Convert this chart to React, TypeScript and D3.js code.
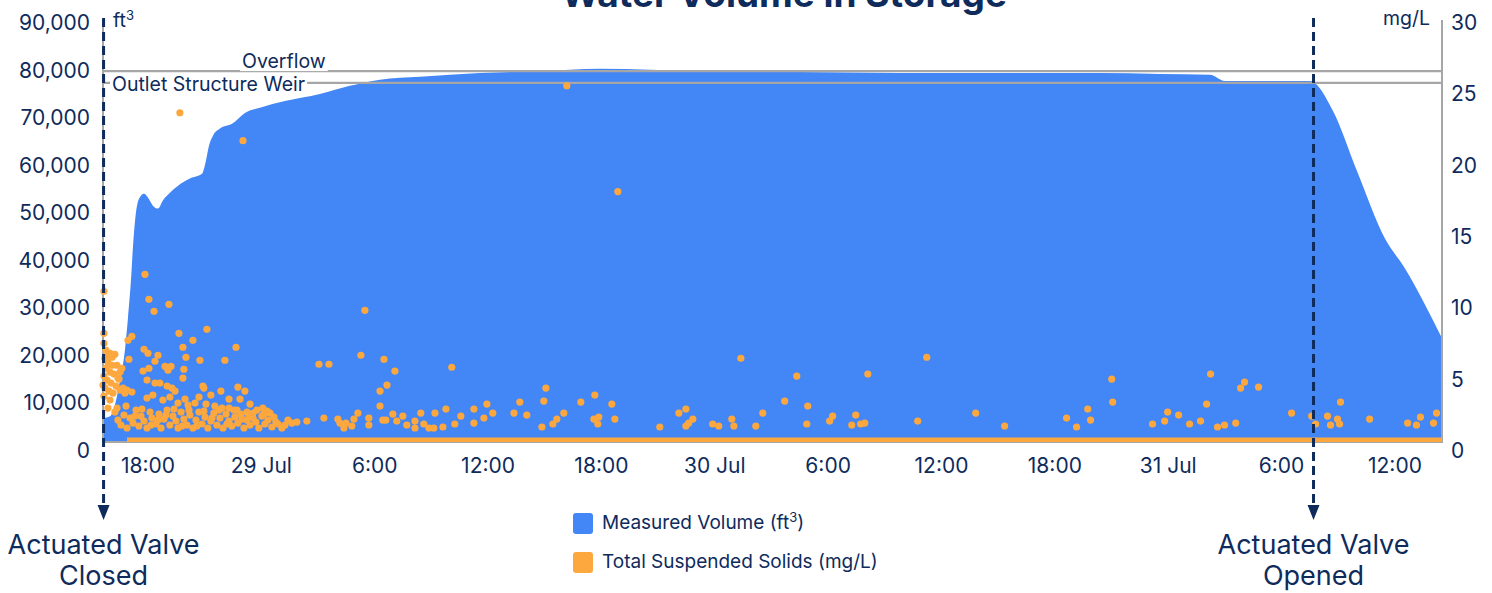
import { useEffect, useRef } from 'react'
import * as d3 from 'd3'

const WIDTH = 1492
const HEIGHT = 593

// all times are hours counted from 28 Jul 00:00
const volumeHours = [
  15.62, 15.99, 16.25, 16.52, 16.78, 16.94, 17.1, 17.21, 17.42, 17.63, 17.79, 18.0, 18.26, 18.53,
  18.79, 19.16, 19.59, 20.22, 20.86, 21.07, 21.23, 21.44, 21.81, 22.45, 23.13, 23.93, 25.25, 27.1,
  28.69, 30.28, 32.4, 35.57, 38.75, 41.92, 47.22, 52.51, 57.8, 63.09, 68.39, 71.56, 74.21, 75.0,
  79.5, 80.72, 81.99, 83.47, 84.53, 86.49,
]
const volumeValues = [
  5000, 5400, 7800, 13000, 19300, 26000, 34000, 41300, 49700, 51800, 52200, 51400, 49700, 49100,
  50800, 52400, 53900, 55400, 56400, 59200, 62300, 64400, 65900, 66900, 69200, 70300, 71700, 73200,
  74900, 76200, 76800, 77600, 78000, 78500, 78000, 77800, 77600, 77600, 77600, 77400, 77200, 75900,
  75900, 69600, 57000, 42800, 36500, 21800,
]

// [hour, mg/L]
const tssReadings: [number, number][] = [
  [15.67, 10.56], [17.84, 11.75], [19.69, 23.08], [23.03, 21.12], [40.17, 24.97], [42.87, 17.55],
  [29.48, 9.23], [18.05, 10.0], [19.11, 9.65], [18.32, 9.16], [15.67, 7.62], [19.64, 7.62],
  [21.12, 7.9], [17.15, 7.41], [16.94, 7.13], [20.38, 7.13], [22.66, 6.64], [17.79, 6.5],
  [19.85, 6.64], [18.0, 6.22], [15.99, 6.22], [16.25, 6.15], [18.53, 6.08], [20.01, 5.94],
  [20.75, 5.73], [22.07, 5.73], [16.99, 5.8], [18.37, 5.66], [18.9, 5.31], [19.22, 5.31],
  [19.06, 5.03], [19.9, 5.1], [17.74, 4.97], [18.05, 5.17], [19.85, 4.48], [17.95, 4.34],
  [16.47, 4.41],
  [15.72, 5.87], [15.88, 5.59], [16.1, 5.38], [15.78, 5.17], [15.99, 4.9], [16.2, 4.76],
  [15.67, 4.62], [15.83, 4.34], [16.04, 4.13], [16.31, 3.92], [15.72, 3.78], [15.94, 3.57],
  [16.15, 3.43], [15.67, 3.22], [16.41, 4.48], [16.52, 4.9], [16.36, 5.38], [16.62, 5.17],
  [15.88, 6.08], [15.62, 3.99], [15.99, 2.94], [15.88, 2.38], [15.67, 6.92], [15.78, 6.43],
  [16.1, 5.94],
  [18.37, 4.13], [18.63, 4.13], [19.01, 3.92], [19.27, 3.78], [19.43, 3.57], [20.91, 3.92],
  [20.96, 3.78], [21.86, 3.57], [22.76, 3.85], [23.13, 3.57], [20.7, 3.15], [21.33, 3.29],
  [22.29, 3.01], [22.87, 3.01], [23.4, 2.66], [16.52, 3.64], [16.68, 3.78], [16.89, 3.64],
  [17.15, 3.5], [16.78, 3.43], [17.95, 3.08], [18.26, 3.29], [18.79, 2.94], [19.16, 3.15],
  [19.59, 2.73], [19.96, 3.01], [20.12, 2.59], [20.49, 2.73], [21.07, 2.66], [21.54, 2.52],
  [21.92, 2.38], [22.29, 2.38], [22.71, 2.24], [23.24, 2.1], [23.56, 2.03], [24.08, 2.38],
  [24.3, 2.17], [24.46, 2.03], [24.67, 1.75], [24.77, 1.4], [25.25, 1.19], [25.62, 1.33],
  [25.88, 1.4],
  [16.25, 2.1], [16.41, 1.54], [16.57, 1.19], [16.73, 1.89], [16.89, 0.98], [17.05, 1.68],
  [17.21, 1.33], [17.37, 2.24], [17.52, 1.12], [17.63, 1.82], [17.79, 1.47], [17.95, 0.98],
  [18.11, 2.1], [18.21, 1.68], [18.42, 1.26], [18.58, 1.96], [18.69, 0.98], [18.85, 1.61],
  [19.01, 2.24], [19.16, 1.19], [19.32, 1.82], [19.48, 1.47], [19.59, 0.98], [19.75, 2.1],
  [19.9, 1.61], [20.06, 1.19], [20.22, 1.89], [20.38, 0.98], [20.54, 1.54], [20.7, 2.1],
  [20.86, 1.26], [21.02, 1.75], [21.17, 0.98], [21.33, 1.47], [21.49, 2.03], [21.65, 1.19],
  [21.81, 1.68], [21.97, 0.98], [22.13, 1.96], [22.29, 1.47], [22.44, 1.12], [22.6, 1.75],
  [22.76, 1.33], [22.92, 1.96], [23.08, 0.98], [23.24, 1.54], [23.4, 1.19], [23.56, 1.68],
  [23.71, 1.4], [23.87, 0.98], [24.03, 1.82], [24.19, 1.26], [24.35, 1.54], [24.56, 1.05],
  [24.88, 1.26], [25.09, 0.98], [25.41, 1.54], [16.36, 2.38], [16.84, 2.52], [17.31, 1.82],
  [17.68, 2.31], [18.16, 1.19], [18.53, 1.54], [18.95, 1.89], [19.38, 2.31], [19.8, 1.12],
  [20.17, 2.24], [20.59, 1.12], [20.96, 2.17], [21.39, 1.68], [21.76, 2.24], [22.18, 1.26],
  [22.55, 2.24], [22.97, 1.61], [23.34, 1.89], [23.77, 2.24], [24.14, 1.96],
  [26.41, 1.47], [27.31, 1.68], [28.05, 1.61], [28.16, 1.33], [28.48, 1.33], [28.37, 0.98],
  [28.79, 1.12], [28.9, 1.61], [29.11, 2.03], [29.69, 1.68], [29.69, 1.19], [30.28, 2.52],
  [30.28, 3.57], [30.65, 3.99], [31.07, 4.97], [30.49, 5.8], [29.27, 6.08], [27.05, 5.45],
  [27.58, 5.45], [30.43, 1.54], [30.59, 1.54], [30.96, 1.96], [31.17, 1.47], [31.49, 1.82],
  [31.7, 1.19], [32.13, 1.47], [32.13, 0.98], [32.44, 2.03], [32.6, 1.26], [32.87, 0.98],
  [33.13, 0.98], [33.19, 2.03], [33.61, 1.05], [33.77, 2.31], [34.08, 5.24], [34.24, 1.26],
  [34.56, 1.82], [35.25, 2.31], [35.25, 1.33], [35.78, 1.68], [35.94, 2.66], [36.25, 2.03],
  [37.37, 2.03], [37.68, 2.8], [38.05, 1.89], [38.95, 2.87], [39.06, 3.78], [38.85, 1.05],
  [39.43, 1.26], [39.64, 1.61], [40.01, 2.03], [40.91, 2.8], [41.65, 3.29], [41.6, 1.61],
  [41.86, 1.75], [41.81, 1.26], [42.55, 2.66], [42.71, 1.61], [45.09, 1.05], [46.1, 2.03],
  [46.47, 2.31], [46.47, 1.12], [46.62, 1.33], [46.84, 1.61], [47.89, 1.26], [48.21, 1.12],
  [48.9, 1.61], [49.01, 1.12], [49.38, 5.87], [50.17, 1.12], [50.54, 2.03], [51.7, 2.87],
  [52.34, 4.62], [52.92, 2.52], [52.87, 1.26], [54.08, 1.47], [54.24, 1.82], [55.25, 1.19],
  [55.46, 1.89], [55.72, 1.26], [55.94, 1.33], [56.1, 4.76], [58.74, 1.47], [59.22, 5.94],
  [61.81, 2.03], [63.34, 1.12], [66.62, 1.68], [67.15, 1.05], [67.74, 2.31], [67.89, 1.54],
  [69.01, 4.41], [69.06, 2.8], [71.17, 1.26], [71.81, 1.47], [71.97, 2.1], [72.55, 1.89],
  [73.13, 1.26], [73.71, 1.47], [74.03, 2.66], [74.24, 4.76], [74.61, 1.05], [74.98, 1.19],
  [75.57, 1.33], [75.83, 3.78], [76.04, 4.2], [76.78, 3.85], [78.53, 2.03], [79.59, 1.82],
  [79.8, 1.26], [80.43, 1.82], [80.59, 1.19], [80.96, 1.61], [81.07, 1.26], [81.12, 2.8],
  [82.66, 1.61], [84.67, 1.33], [85.14, 1.19], [85.35, 1.75], [86.04, 1.33], [86.2, 2.03],
]
// run of zero readings along the bottom
const tssZeroSpan = [16.89, 86.49]

const timeDomain = [15.62, 86.49]
const volumeTicks = [0, 10000, 20000, 30000, 40000, 50000, 60000, 70000, 80000, 90000]
const tssTicks = [0, 5, 10, 15, 20, 25, 30]
const plotLines = [
  { label: 'Overflow', value: 78000 },
  { label: 'Outlet Structure Weir', value: 75500 },
]
const valveEvents = [
  { hour: 15.65, lines: ['Actuated Valve', 'Closed'] },
  { hour: 79.69, lines: ['Actuated Valve', 'Opened'] },
]

const NAVY = '#0e2b5c'
const BLUE = '#4386f5'
const ORANGE = '#fda83f'
const GREY = '#a6a6a6'
const FONT = "Inter, 'Noto Sans', sans-serif"

export default function App() {
  const svgRef = useRef<SVGSVGElement>(null)

  useEffect(() => {
    if (!svgRef.current) return
    const svg = d3.select(svgRef.current)
    svg.selectAll('*').remove()

    const x0 = 103
    const x1 = 1442
    const yTop = 14
    const yBottom = 442
    const base = new Date(2023, 6, 28).getTime()
    const toDate = (h: number) => new Date(base + h * 3600e3)

    const x = d3.scaleTime().domain(timeDomain.map(toDate)).range([x0, x1])
    const yVol = d3.scaleLinear().domain([0, 90000]).range([yBottom, yTop])
    const yTss = d3.scaleLinear().domain([0, 30]).range([yBottom, yTop])

    svg.append('defs').append('clipPath').attr('id', 'plot-clip')
      .append('rect')
      .attr('x', x0).attr('y', yTop)
      .attr('width', x1 - x0).attr('height', yBottom - yTop)

    const g = svg.append('g').style('font-family', FONT)

    // title, pushed up so only its lower part shows (as in the source)
    g.append('text')
      .attr('x', 784).attr('y', 7)
      .attr('text-anchor', 'middle')
      .attr('font-size', 37).attr('font-weight', 700)
      .attr('fill', NAVY)
      .text('Water Volume in Storage')

    // volume area
    const area = d3.area<number>()
      .x((_, i) => x(toDate(volumeHours[i])))
      .y0(yBottom)
      .y1((d) => yVol(d))
      .curve(d3.curveMonotoneX)
    g.append('path')
      .attr('clip-path', 'url(#plot-clip)')
      .attr('d', area(volumeValues) ?? '')
      .attr('fill', BLUE)

    // plot lines with labels
    const labelOffsets = [139, 9]
    plotLines.forEach((pl, i) => {
      const y = yVol(pl.value)
      g.append('line')
        .attr('x1', x0).attr('x2', x1)
        .attr('y1', y).attr('y2', y)
        .attr('stroke', GREY).attr('stroke-width', 2.2)
      const bg = g.append('rect').attr('fill', '#fff')
      const t = g.append('text')
        .attr('x', x0 + labelOffsets[i])
        .attr('y', i === 0 ? y - 3 : y + 8)
        .attr('font-size', 19.5)
        .attr('fill', NAVY)
        .text(pl.label)
      const bb = (t.node() as SVGTextElement).getBBox()
      bg.attr('x', bb.x - 2).attr('y', bb.y + 2)
        .attr('width', bb.width + 4).attr('height', bb.height - 4)
    })

    // axis lines
    g.append('line').attr('x1', x0).attr('x2', x0).attr('y1', 20).attr('y2', yBottom + 1)
      .attr('stroke', GREY).attr('stroke-width', 2)
    g.append('line').attr('x1', x1).attr('x2', x1).attr('y1', 20).attr('y2', yBottom + 1)
      .attr('stroke', GREY).attr('stroke-width', 2)
    g.append('line').attr('x1', x0).attr('x2', x1).attr('y1', yBottom).attr('y2', yBottom)
      .attr('stroke', GREY).attr('stroke-width', 2)

    // TSS scatter
    g.append('line')
      .attr('clip-path', 'url(#plot-clip)')
      .attr('x1', x(toDate(tssZeroSpan[0]))).attr('x2', x(toDate(tssZeroSpan[1])))
      .attr('y1', yTss(0)).attr('y2', yTss(0))
      .attr('stroke', ORANGE).attr('stroke-width', 9)
    g.append('g')
      .selectAll('circle')
      .data(tssReadings)
      .join('circle')
      .attr('cx', (d) => x(toDate(d[0])))
      .attr('cy', (d) => yTss(d[1]))
      .attr('r', 3.6)
      .attr('fill', ORANGE)

    // left axis labels
    g.append('g')
      .selectAll('text')
      .data(volumeTicks)
      .join('text')
      .attr('x', 90)
      .attr('y', (d) => yVol(d) + 16)
      .attr('text-anchor', 'end')
      .attr('font-size', 21)
      .attr('fill', NAVY)
      .text((d) => d3.format(',')(d))
    const ft = g.append('text').attr('x', 113).attr('y', 27).attr('font-size', 19.5).attr('fill', NAVY)
    ft.append('tspan').text('ft')
    ft.append('tspan').attr('font-size', 13).attr('dy', -7).text('3')

    // right axis labels
    g.append('g')
      .selectAll('text')
      .data(tssTicks)
      .join('text')
      .attr('x', 1451)
      .attr('y', (d) => yTss(d) + 16)
      .attr('font-size', 21)
      .attr('fill', NAVY)
      .text((d) => String(d))
    g.append('text')
      .attr('x', 1430).attr('y', 25)
      .attr('text-anchor', 'end')
      .attr('font-size', 19.5).attr('fill', NAVY)
      .text('mg/L')

    // x axis labels
    const fmtDay = d3.timeFormat('%-d %b')
    const fmtHour = d3.timeFormat('%-H:%M')
    const ticks = x.ticks(d3.timeHour.every(6)!)
    g.append('g')
      .selectAll('text')
      .data(ticks)
      .join('text')
      .attr('x', (d) => x(d))
      .attr('y', 473)
      .attr('text-anchor', 'middle')
      .attr('font-size', 21)
      .attr('fill', NAVY)
      .text((d) => (d.getHours() === 0 ? fmtDay(d) : fmtHour(d)))

    // valve markers
    valveEvents.forEach((ev) => {
      const vx = x(toDate(ev.hour))
      g.append('line')
        .attr('x1', vx).attr('x2', vx)
        .attr('y1', 18).attr('y2', 506)
        .attr('stroke', NAVY).attr('stroke-width', 3)
        .attr('stroke-dasharray', '9,5')
      g.append('path')
        .attr('d', `M${vx - 6},505L${vx + 6},505L${vx},520Z`)
        .attr('fill', NAVY)
      ev.lines.forEach((ln, i) => {
        g.append('text')
          .attr('x', vx).attr('y', 554 + i * 31)
          .attr('text-anchor', 'middle')
          .attr('font-size', 27)
          .attr('fill', NAVY)
          .text(ln)
      })
    })

    // legend
    const legend = g.append('g').attr('transform', 'translate(573,513)')
    const items = [
      { color: BLUE, label: 'Measured Volume (ft', sup: '3', tail: ')' },
      { color: ORANGE, label: 'Total Suspended Solids (mg/L)', sup: '', tail: '' },
    ]
    items.forEach((it, i) => {
      legend.append('rect')
        .attr('x', 0).attr('y', i * 39)
        .attr('width', 20).attr('height', 21).attr('rx', 3)
        .attr('fill', it.color)
      const t = legend.append('text')
        .attr('x', 29).attr('y', i * 39 + 16)
        .attr('font-size', 19).attr('fill', NAVY)
      t.append('tspan').text(it.label)
      if (it.sup) {
        t.append('tspan').attr('font-size', 13).attr('dy', -7).text(it.sup)
        t.append('tspan').attr('dy', 7).text(it.tail)
      }
    })
  }, [])

  return (
    <svg
      ref={svgRef}
      width={WIDTH}
      height={HEIGHT}
      style={{ position: 'absolute', left: 0, top: 0, background: '#fff' }}
    />
  )
}
